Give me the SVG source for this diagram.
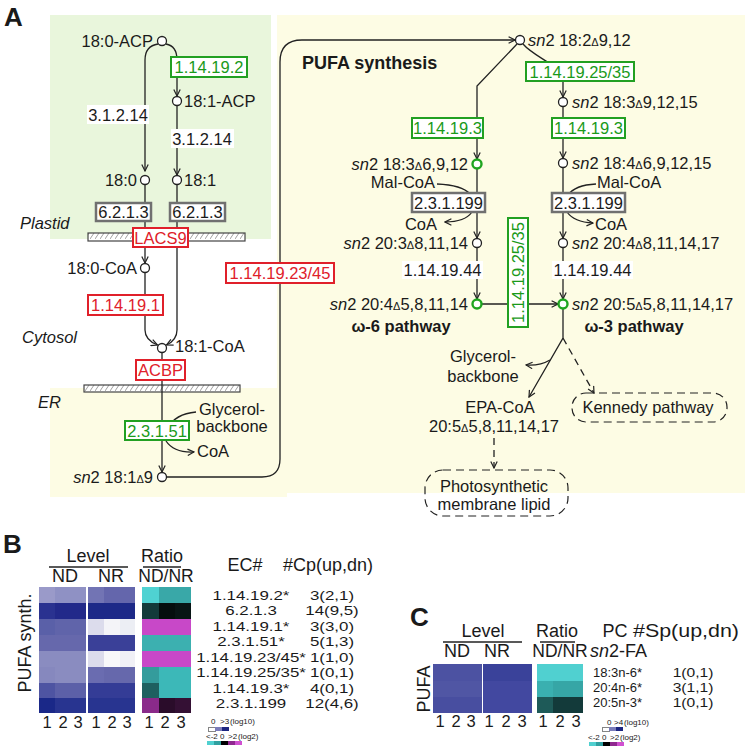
<svg xmlns="http://www.w3.org/2000/svg" width="745" height="751" viewBox="0 0 745 751">
<style>
text{font-family:"Liberation Sans",Arial,Helvetica,sans-serif;fill:#1a1a1a}
.a{font-size:16.5px}
.h{font-size:18px}
.r{font-size:16.5px}
.rw{font-size:13.5px}
.s{font-size:13px}
.lg{font-size:8px}
.m{text-anchor:middle}
.e{text-anchor:end}
.i{font-style:italic}
.b{font-weight:bold}
.d{font-size:11px}
.gt{fill:#1a9a1a}
.rt{fill:#e0202a}
.gb{fill:#fff;stroke:#22a022;stroke-width:2}
.rb{fill:#fff;stroke:#e0202a;stroke-width:2}
.kb{fill:#fff;stroke:#707070;stroke-width:2.5}
.wb{fill:#fff}
.n{fill:#fff;stroke:#222;stroke-width:1.3}
.ng{fill:#fff;stroke:#1fa51f;stroke-width:2.4}
.c{fill:none;stroke:#222;stroke-width:1.3}
.ca{fill:none;stroke:#222;stroke-width:1.3;marker-end:url(#ar)}
.dash{stroke-dasharray:7,5}
.bar{fill:url(#hatch);stroke:#444;stroke-width:1.2}
.ul{stroke:#222;stroke-width:1.3}
</style>
<defs>
<marker id="ar" viewBox="0 0 10 10" refX="9" refY="5" markerWidth="8" markerHeight="8" markerUnits="userSpaceOnUse" orient="auto">
<path d="M1,1 L9,5 L1,9" fill="none" stroke="#222" stroke-width="1.5"/>
</marker>
<pattern id="hatch" patternUnits="userSpaceOnUse" width="5" height="8">
<rect width="5" height="8" fill="#fff"/>
<path d="M0,7 L4,1" stroke="#888" stroke-width="0.8"/>
</pattern>
</defs>

<g id="backgrounds">
<rect x="50" y="15" width="221" height="224" fill="#e9f6dc"/>
<rect x="277" y="15" width="468" height="478" fill="#fdfce4"/>
<rect x="50" y="388" width="237" height="109" fill="#fdfce4"/>
</g>

<text x="4" y="26" class="b" font-size="26">A</text>
<text x="302" y="69" class="b" font-size="18">PUFA synthesis</text>
<text x="20" y="229" class="a i">Plastid</text>
<text x="22" y="343" class="a i">Cytosol</text>
<text x="38" y="408" class="a i">ER</text>

<g id="membranes">
<rect x="88" y="233" width="157" height="8" class="bar"/>
<rect x="84" y="385" width="156" height="7" class="bar"/>
</g>

<g id="connectors">
<path class="ca" d="M158,44 Q145,46 145,60 L145,171"/>
<path class="ca" d="M166,44 Q177,46 177,60 L177,96"/>
<path class="ca" d="M177,105.5 L177,175"/>
<path class="ca" d="M145,184.5 L145,263"/>
<path class="ca" d="M177,184.5 L177,330 Q177,340 166.5,345"/>
<path class="ca" d="M145,272.5 L145,330 Q145,340 157.5,345"/>
<path class="ca" d="M162,352.5 L162,472"/>
<path class="c" d="M196,412 Q175,414 168,428"/>
<path class="ca" d="M166,441 Q174,453 194,452"/>
<path class="ca" d="M166.5,477 L262,477 Q280,477 280,459 L280,62 Q280,40 302,40 L515,40"/>
<path class="ca" d="M517,44 L477,86 L477,159"/>
<path class="ca" d="M523,44 C535,58 563,66 563,80 L563,97"/>
<path class="ca" d="M563,106.5 L563,158"/>
<path class="ca" d="M477,168.5 L477,238"/>
<path class="c" d="M437,184 Q462,185 470,194"/>
<path class="ca" d="M472,212 Q465,222 445,222"/>
<path class="ca" d="M563,167.5 L563,238"/>
<path class="c" d="M596,184 Q575,185 568,195"/>
<path class="ca" d="M567,212 Q574,222 593,223"/>
<path class="ca" d="M477,247.5 L477,299"/>
<path class="ca" d="M563,247.5 L563,299"/>
<path class="ca" d="M481.5,304 L558,304"/>
<path class="ca" d="M563,308.5 L563,338 L529,397"/>
<path class="ca" d="M550,360 Q540,366 526,365"/>
<path class="ca dash" d="M563,338 L594,393"/>
<path class="ca dash" d="M494,438 L494,468"/>
</g>

<g id="n-180acp"><circle cx="162" cy="41" r="4.5" class="n"/><text x="153" y="47" class="a e">18:0-ACP</text></g>
<g id="n-181acp"><circle cx="177" cy="101" r="4.5" class="n"/><text x="184" y="107" class="a">18:1-ACP</text></g>
<g id="n-180"><circle cx="145" cy="180" r="4.5" class="n"/><text x="137" y="186" class="a e">18:0</text></g>
<g id="n-181"><circle cx="177" cy="180" r="4.5" class="n"/><text x="184" y="186" class="a">18:1</text></g>
<g id="n-180coa"><circle cx="145" cy="268" r="4.5" class="n"/><text x="137" y="274" class="a e">18:0-CoA</text></g>
<g id="n-181coa"><circle cx="162" cy="348" r="4.5" class="n"/><text x="175" y="352" class="a">18:1-CoA</text></g>
<g id="n-sn2-181"><circle cx="162" cy="477" r="4.5" class="n"/><text x="153" y="483" class="a e"><tspan class="i">sn</tspan>2 18:1<tspan class="d">Δ</tspan>9</text></g>
<g id="n-sn2-182"><circle cx="520" cy="40" r="4.5" class="n"/><text x="528" y="46" class="a"><tspan class="i">sn</tspan>2 18:2<tspan class="d">Δ</tspan>9,12</text></g>
<g id="n-sn2-183a"><circle cx="563" cy="102" r="4.5" class="n"/><text x="572" y="108" class="a"><tspan class="i">sn</tspan>2 18:3<tspan class="d">Δ</tspan>9,12,15</text></g>
<g id="n-sn2-183g"><circle cx="477" cy="164" r="4.5" class="ng"/><text x="468" y="170" class="a e"><tspan class="i">sn</tspan>2 18:3<tspan class="d">Δ</tspan>6,9,12</text></g>
<g id="n-sn2-184"><circle cx="563" cy="163" r="4.5" class="n"/><text x="572" y="169" class="a"><tspan class="i">sn</tspan>2 18:4<tspan class="d">Δ</tspan>6,9,12,15</text></g>
<g id="n-sn2-203"><circle cx="477" cy="243" r="4.5" class="n"/><text x="468" y="249" class="a e"><tspan class="i">sn</tspan>2 20:3<tspan class="d">Δ</tspan>8,11,14</text></g>
<g id="n-sn2-204a"><circle cx="563" cy="243" r="4.5" class="n"/><text x="572" y="249" class="a"><tspan class="i">sn</tspan>2 20:4<tspan class="d">Δ</tspan>8,11,14,17</text></g>
<g id="n-sn2-204"><circle cx="477" cy="304" r="4.5" class="ng"/><text x="468" y="310" class="a e"><tspan class="i">sn</tspan>2 20:4<tspan class="d">Δ</tspan>5,8,11,14</text><text x="401" y="332" class="a m b">ω-6 pathway</text></g>
<g id="n-sn2-205"><circle cx="563" cy="304" r="4.5" class="ng"/><text x="572" y="310" class="a"><tspan class="i">sn</tspan>2 20:5<tspan class="d">Δ</tspan>5,8,11,14,17</text><text x="634" y="332" class="a m b">ω-3 pathway</text></g>

<g id="n-glyc1"><text x="232" y="415" class="a m">Glycerol-</text><text x="232" y="432" class="a m">backbone</text></g>
<g id="n-coa1"><text x="197" y="457" class="a">CoA</text></g>
<g id="n-malcoa1"><text x="435" y="188" class="a e">Mal-CoA</text></g>
<g id="n-coa2"><text x="437" y="230" class="a e">CoA</text></g>
<g id="n-malcoa2"><text x="597" y="188" class="a">Mal-CoA</text></g>
<g id="n-coa3"><text x="595" y="230" class="a">CoA</text></g>
<g id="n-glyc2"><text x="483" y="362" class="a m">Glycerol-</text><text x="483" y="382" class="a m">backbone</text></g>
<g id="n-epa"><text x="500" y="413" class="a m">EPA-CoA</text><text x="494" y="432" class="a m">20:5<tspan class="d">Δ</tspan>5,8,11,14,17</text></g>
<g id="n-kennedy"><rect x="572" y="393" width="155" height="29" rx="14" fill="none" stroke="#222" stroke-width="1.2" stroke-dasharray="8,5"/><text x="648" y="413" class="a m">Kennedy pathway</text></g>
<g id="n-photo"><rect x="425" y="470" width="143" height="46" rx="18" fill="none" stroke="#222" stroke-width="1.2" stroke-dasharray="8,5"/><text x="494" y="492" class="a m">Photosynthetic</text><text x="494" y="510" class="a m">membrane lipid</text></g>

<g id="e-1.14.19.2"><rect x="171" y="57" width="76" height="20" class="gb"/><text x="209" y="73" class="a m gt">1.14.19.2</text></g>
<g id="e-3.1.2.14a"><rect x="87" y="105" width="62" height="19" class="wb"/><text x="118" y="121" class="a m">3.1.2.14</text></g>
<g id="e-3.1.2.14b"><rect x="171" y="129" width="63" height="19" class="wb"/><text x="202" y="145" class="a m">3.1.2.14</text></g>
<g id="e-6.2.1.3a"><rect x="96" y="203" width="55" height="18" class="kb"/><text x="123.5" y="218" class="a m">6.2.1.3</text></g>
<g id="e-6.2.1.3b"><rect x="170" y="203" width="55" height="18" class="kb"/><text x="197.5" y="218" class="a m">6.2.1.3</text></g>
<g id="e-lacs9"><rect x="133" y="228" width="55" height="19" class="rb"/><text x="160.5" y="244" class="a m rt">LACS9</text></g>
<g id="e-1.14.19.1"><rect x="88" y="295" width="75" height="20" class="rb"/><text x="125.5" y="311" class="a m rt">1.14.19.1</text></g>
<g id="e-acbp"><rect x="136" y="360" width="49" height="20" class="rb"/><text x="160.5" y="376" class="a m rt">ACBP</text></g>
<g id="e-2.3.1.51"><rect x="125" y="421" width="64" height="19" class="gb"/><text x="157" y="437" class="a m gt">2.3.1.51</text></g>
<g id="e-1.14.19.23-45"><rect x="226" y="263" width="108" height="20" class="rb"/><text x="280" y="279" class="a m rt">1.14.19.23/45</text></g>
<g id="e-1.14.19.25-35a"><rect x="526" y="62" width="108" height="19" class="gb"/><text x="580" y="78" class="a m gt">1.14.19.25/35</text></g>
<g id="e-1.14.19.3a"><rect x="412" y="118" width="71" height="20" class="gb"/><text x="447.5" y="134" class="a m gt">1.14.19.3</text></g>
<g id="e-1.14.19.3b"><rect x="552" y="118" width="73" height="20" class="gb"/><text x="588.5" y="134" class="a m gt">1.14.19.3</text></g>
<g id="e-2.3.1.199a"><rect x="412" y="193" width="73" height="19" class="kb"/><text x="448.5" y="209" class="a m">2.3.1.199</text></g>
<g id="e-2.3.1.199b"><rect x="552" y="193" width="73" height="19" class="kb"/><text x="588.5" y="209" class="a m">2.3.1.199</text></g>
<g id="e-1.14.19.44a"><rect x="402" y="261" width="81" height="18" class="wb"/><text x="442.5" y="276" class="a m">1.14.19.44</text></g>
<g id="e-1.14.19.44b"><rect x="552" y="261" width="81" height="18" class="wb"/><text x="592.5" y="276" class="a m">1.14.19.44</text></g>
<g id="e-1.14.19.25-35b"><rect x="508" y="218" width="20" height="109" class="gb"/><text transform="translate(524,272.5) rotate(-90)" class="a m gt">1.14.19.25/35</text></g>

<g id="panelB">
<text x="3" y="553" class="b" font-size="26">B</text>
<text x="88" y="562" class="h m">Level</text>
<line x1="49" y1="567" x2="128" y2="567" class="ul"/>
<text x="162" y="562" class="h m">Ratio</text>
<line x1="143" y1="567" x2="181" y2="567" class="ul"/>
<text x="65" y="582" class="h m">ND</text>
<text x="111" y="582" class="h m">NR</text>
<text x="166" y="582" class="m" font-size="17.5">ND/NR</text>
<text x="245" y="571" class="h m">EC#</text>
<text x="283" y="571" class="h">#Cp(up,dn)</text>
<text transform="translate(31,643) rotate(-90)" class="h m">PUFA synth.</text>
<g id="heatB" shape-rendering="crispEdges">
<rect x="39" y="587" width="16" height="16" fill="#9a9ac9"/><rect x="55" y="587" width="16" height="16" fill="#8f91c4"/><rect x="71" y="587" width="15" height="16" fill="#8f91c4"/>
<rect x="88" y="587" width="16" height="16" fill="#7274b4"/><rect x="104" y="587" width="16" height="16" fill="#6466ac"/><rect x="120" y="587" width="15" height="16" fill="#6466ac"/>
<rect x="142" y="587" width="17" height="16" fill="#4fd2d2"/><rect x="159" y="587" width="16" height="16" fill="#39a8a8"/><rect x="175" y="587" width="16" height="16" fill="#39a8a8"/>

<rect x="39" y="603" width="16" height="16" fill="#2a3290"/><rect x="55" y="603" width="16" height="16" fill="#22298a"/><rect x="71" y="603" width="15" height="16" fill="#22298a"/>
<rect x="88" y="603" width="16" height="16" fill="#1d2988"/><rect x="104" y="603" width="16" height="16" fill="#1d2988"/><rect x="120" y="603" width="15" height="16" fill="#1d2988"/>
<rect x="142" y="603" width="17" height="16" fill="#133a3a"/><rect x="159" y="603" width="16" height="16" fill="#050e0e"/><rect x="175" y="603" width="16" height="16" fill="#081515"/>

<rect x="39" y="619" width="16" height="16" fill="#5a60a8"/><rect x="55" y="619" width="16" height="16" fill="#6064aa"/><rect x="71" y="619" width="15" height="16" fill="#6064aa"/>
<rect x="88" y="619" width="16" height="16" fill="#dcdcec"/><rect x="104" y="619" width="16" height="16" fill="#f4f4f8"/><rect x="120" y="619" width="15" height="16" fill="#eceef4"/>
<rect x="142" y="619" width="49" height="16" fill="#c848c8"/>

<rect x="39" y="635" width="47" height="16" fill="#6668ac"/>
<rect x="88" y="635" width="47" height="16" fill="#3a4098"/>
<rect x="142" y="635" width="49" height="16" fill="#3cb0b0"/>

<rect x="39" y="651" width="47" height="16" fill="#8a8cc0"/>
<rect x="88" y="651" width="16" height="16" fill="#dcdcec"/><rect x="104" y="651" width="16" height="16" fill="#f8f8fa"/><rect x="120" y="651" width="15" height="16" fill="#f0f0f6"/>
<rect x="142" y="651" width="49" height="16" fill="#c848c8"/>

<rect x="39" y="667" width="16" height="16" fill="#8688be"/><rect x="55" y="667" width="31" height="16" fill="#8a8cc0"/>
<rect x="88" y="667" width="16" height="16" fill="#6a6cb0"/><rect x="104" y="667" width="31" height="16" fill="#6668ac"/>
<rect x="142" y="667" width="17" height="16" fill="#349c9c"/><rect x="159" y="667" width="32" height="16" fill="#3cb8b8"/>

<rect x="39" y="683" width="16" height="15" fill="#4e54a2"/><rect x="55" y="683" width="31" height="15" fill="#5c60a8"/>
<rect x="88" y="683" width="47" height="15" fill="#343c96"/>
<rect x="142" y="683" width="17" height="15" fill="#1e6060"/><rect x="159" y="683" width="32" height="15" fill="#3cb8b8"/>

<rect x="39" y="698" width="16" height="15" fill="#1a2888"/><rect x="55" y="698" width="31" height="15" fill="#283490"/>
<rect x="88" y="698" width="47" height="15" fill="#283490"/>
<rect x="142" y="698" width="17" height="15" fill="#8a2a8a"/><rect x="159" y="698" width="16" height="15" fill="#2a0c2a"/><rect x="175" y="698" width="16" height="15" fill="#341034"/>
</g>
<g id="rowsB" transform="scale(1.25,1)">
<text x="200.8" y="600" class="rw m">1.14.19.2*</text>
<text x="200.8" y="615.5" class="rw m">6.2.1.3</text>
<text x="200.8" y="631" class="rw m">1.14.19.1*</text>
<text x="200.8" y="646.5" class="rw m">2.3.1.51*</text>
<text x="200.8" y="662" class="rw m">1.14.19.23/45*</text>
<text x="200.8" y="677.5" class="rw m">1.14.19.25/35*</text>
<text x="200.8" y="693" class="rw m">1.14.19.3*</text>
<text x="200.8" y="708.5" class="rw m">2.3.1.199</text>
<text x="265.6" y="600" class="rw m">3(2,1)</text>
<text x="265.6" y="615.5" class="rw m">14(9,5)</text>
<text x="265.6" y="631" class="rw m">3(3,0)</text>
<text x="265.6" y="646.5" class="rw m">5(1,3)</text>
<text x="265.6" y="662" class="rw m">1(1,0)</text>
<text x="265.6" y="677.5" class="rw m">1(0,1)</text>
<text x="265.6" y="693" class="rw m">4(0,1)</text>
<text x="265.6" y="708.5" class="rw m">12(4,6)</text>
</g>
<text y="728" class="r m"><tspan x="47">1</tspan><tspan x="63">2</tspan><tspan x="78">3</tspan><tspan x="96">1</tspan><tspan x="112">2</tspan><tspan x="127">3</tspan><tspan x="149">1</tspan><tspan x="165">2</tspan><tspan x="181">3</tspan></text>
<text y="724" class="lg"><tspan x="211">0</tspan><tspan x="220">&gt;3</tspan><tspan x="230">(log10)</tspan></text>
<g shape-rendering="crispEdges">
<rect x="208" y="727" width="7" height="4" fill="#fff" stroke="#333" stroke-width="0.6"/><rect x="215" y="727" width="7" height="4" fill="#7a7cba"/><rect x="222" y="727" width="7" height="4" fill="#1c2580"/>
</g>
<text y="739" class="lg"><tspan x="206">&lt;-2</tspan><tspan x="220">0</tspan><tspan x="228">&gt;2</tspan><tspan x="238">(log2)</tspan></text>
<g shape-rendering="crispEdges">
<rect x="207" y="741" width="7" height="4" fill="#50d0d0"/><rect x="214" y="741" width="7" height="4" fill="#30a0a0"/><rect x="221" y="741" width="7" height="4" fill="#000"/><rect x="228" y="741" width="7" height="4" fill="#902890"/><rect x="235" y="741" width="7" height="4" fill="#d050d0"/>
</g>
</g>

<g id="panelC">
<text x="410" y="626" class="b" font-size="26">C</text>
<text x="483" y="637" class="h m">Level</text>
<line x1="443" y1="642" x2="522" y2="642" class="ul"/>
<text x="557" y="637" class="h m">Ratio</text>
<line x1="540" y1="642" x2="575" y2="642" class="ul"/>
<text x="615" y="637" class="h m">PC</text>
<text x="633" y="637" class="h" textLength="106" lengthAdjust="spacingAndGlyphs">#Sp(up,dn)</text>
<text x="457" y="657" class="h m">ND</text>
<text x="497" y="657" class="h m">NR</text>
<text x="560" y="657" class="m" font-size="17.5">ND/NR</text>
<text x="590" y="657" class="h"><tspan class="i">sn</tspan>2-FA</text>
<text transform="translate(430,689) rotate(-90)" class="h m">PUFA</text>
<g id="heatC" shape-rendering="crispEdges">
<rect x="433" y="664" width="49" height="17" fill="#4c52a2"/>
<rect x="483" y="664" width="49" height="17" fill="#3a429a"/>
<rect x="537" y="664" width="46" height="17" fill="#50d0d0"/>
<rect x="433" y="681" width="49" height="16" fill="#5056a4"/>
<rect x="483" y="681" width="49" height="16" fill="#4248a0"/>
<rect x="537" y="681" width="16" height="16" fill="#3ab0b0"/><rect x="553" y="681" width="30" height="16" fill="#36a6a6"/>
<rect x="433" y="697" width="49" height="16" fill="#484ea0"/>
<rect x="483" y="697" width="49" height="16" fill="#4248a0"/>
<rect x="537" y="697" width="16" height="16" fill="#1e5a58"/><rect x="553" y="697" width="30" height="16" fill="#133a3a"/>
</g>
<text x="593" y="677" class="s">18:3n-6*</text>
<text x="593" y="692" class="s">20:4n-6*</text>
<text x="593" y="707" class="s">20:5n-3*</text>
<g id="rowsC" transform="scale(1.2,1)">
<text x="577.5" y="677" class="s m">1(0,1)</text>
<text x="577.5" y="692" class="s m">3(1,1)</text>
<text x="577.5" y="707" class="s m">1(0,1)</text>
</g>
<text y="727" class="r m"><tspan x="440">1</tspan><tspan x="456">2</tspan><tspan x="471">3</tspan><tspan x="489">1</tspan><tspan x="506">2</tspan><tspan x="522">3</tspan><tspan x="543">1</tspan><tspan x="560">2</tspan><tspan x="576">3</tspan></text>
<text y="725" class="lg"><tspan x="607">0</tspan><tspan x="614">&gt;4</tspan><tspan x="624">(log10)</tspan></text>
<g shape-rendering="crispEdges">
<rect x="602" y="727" width="7" height="4" fill="#fff" stroke="#333" stroke-width="0.6"/><rect x="609" y="727" width="7" height="4" fill="#7a7cba"/><rect x="616" y="727" width="7" height="4" fill="#1c2580"/>
</g>
<text y="740" class="lg"><tspan x="588">&lt;-2</tspan><tspan x="602">0</tspan><tspan x="610">&gt;2</tspan><tspan x="620">(log2)</tspan></text>
<g shape-rendering="crispEdges">
<rect x="589" y="742" width="7" height="4" fill="#50d0d0"/><rect x="596" y="742" width="7" height="4" fill="#30a0a0"/><rect x="603" y="742" width="7" height="4" fill="#000"/><rect x="610" y="742" width="7" height="4" fill="#902890"/><rect x="617" y="742" width="7" height="4" fill="#d050d0"/>
</g>
</g>
</svg>
